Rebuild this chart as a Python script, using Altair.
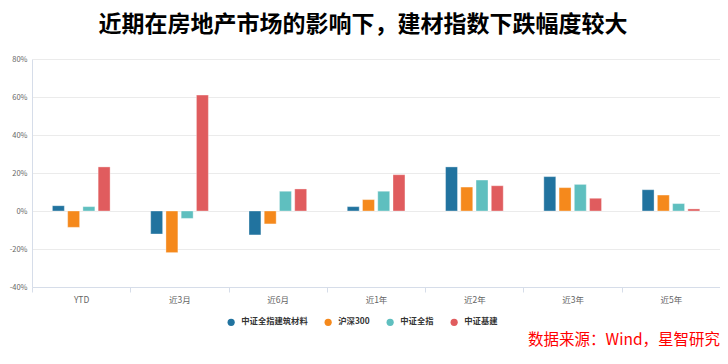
import altair as alt
import pandas as pd

categories = ["YTD", "近3月", "近6月", "近1年", "近2年", "近3年", "近5年"]
series = ["中证全指建筑材料", "沪深300", "中证全指", "中证基建"]
colors = ["#21739f", "#f5891c", "#5fbfbf", "#e05c5e"]

v_building = [2.8, -12.1, -12.6, 2.3, 23.2, 18.1, 11.2]
v_hs300 = [-8.6, -21.9, -6.8, 6.0, 12.6, 12.3, 8.4]
v_all = [2.3, -3.9, 10.4, 10.4, 16.3, 14.0, 3.9]
v_infra = [23.2, 61.0, 11.6, 19.1, 13.3, 6.7, 1.1]

title_text = "近期在房地产市场的影响下，建材指数下跌幅度较大"
source_text = "数据来源：Wind，星智研究"
y_ticks = [-40, -20, 0, 20, 40, 60, 80]

rows = []
for s, vals in zip(series, [v_building, v_hs300, v_all, v_infra]):
    for c, v in zip(categories, vals):
        rows.append({"period": c, "series": s, "value": v})
df = pd.DataFrame(rows)

FONT = "Noto Sans CJK SC"

bars = alt.Chart(df).mark_bar(stroke="white", strokeOpacity=0.35, strokeWidth=1).encode(
    x=alt.X("period:N", sort=categories,
            scale=alt.Scale(paddingInner=0, paddingOuter=0),
            axis=alt.Axis(title=None, labelAngle=0, tickBand="extent", ticks=True,
                          tickSize=5, tickColor="#d6dde9", domainColor="#d6dde9",
                          labelColor="#666666", labelFontSize=8.5, labelFont=FONT,
                          labelPadding=3, grid=False)),
    xOffset=alt.XOffset("series:N", sort=series,
                        scale=alt.Scale(range=[20.4, 78.1], paddingInner=0.216, paddingOuter=0)),
    y=alt.Y("value:Q", scale=alt.Scale(domain=[-40, 80], nice=False),
            axis=alt.Axis(title=None, values=y_ticks, labelExpr="datum.value + '%'",
                          ticks=False, domainColor="#d6dde9", gridColor="#ebebeb",
                          labelColor="#666666", labelFontSize=7.5, labelFont=FONT,
                          labelPadding=5)),
    color=alt.Color("series:N", sort=series,
                    scale=alt.Scale(domain=series, range=colors),
                    legend=alt.Legend(title=None, orient="none", direction="horizontal",
                                      legendX=195, legendY=259, padding=0,
                                      symbolType="circle", symbolSize=52,
                                      symbolStrokeWidth=0, labelOffset=6,
                                      columnPadding=16, labelFontSize=8.3,
                                      labelFontWeight="bold", labelColor="#333333",
                                      labelFont=FONT)),
)

source = alt.Chart(pd.DataFrame({"t": [source_text]})).mark_text(
    align="right", baseline="middle", fontSize=15.5, font=FONT, color="#ff0000"
).encode(
    text="t:N",
    x=alt.value(688),
    y=alt.value(281),
)

chart = alt.layer(bars, source).properties(
    width=688,
    height=228,
    autosize=alt.AutoSizeParams(type="none"),
    padding={"left": 24, "top": 51, "right": 0, "bottom": 62},
    title=alt.TitleParams(title_text, fontSize=23, font=FONT, fontWeight="bold",
                          color="#000000", anchor="middle", dx=-13, offset=18),
    background="white",
).configure_view(stroke=None)

chart.save("out.html", embed_options={"renderer": "svg", "actions": False})
